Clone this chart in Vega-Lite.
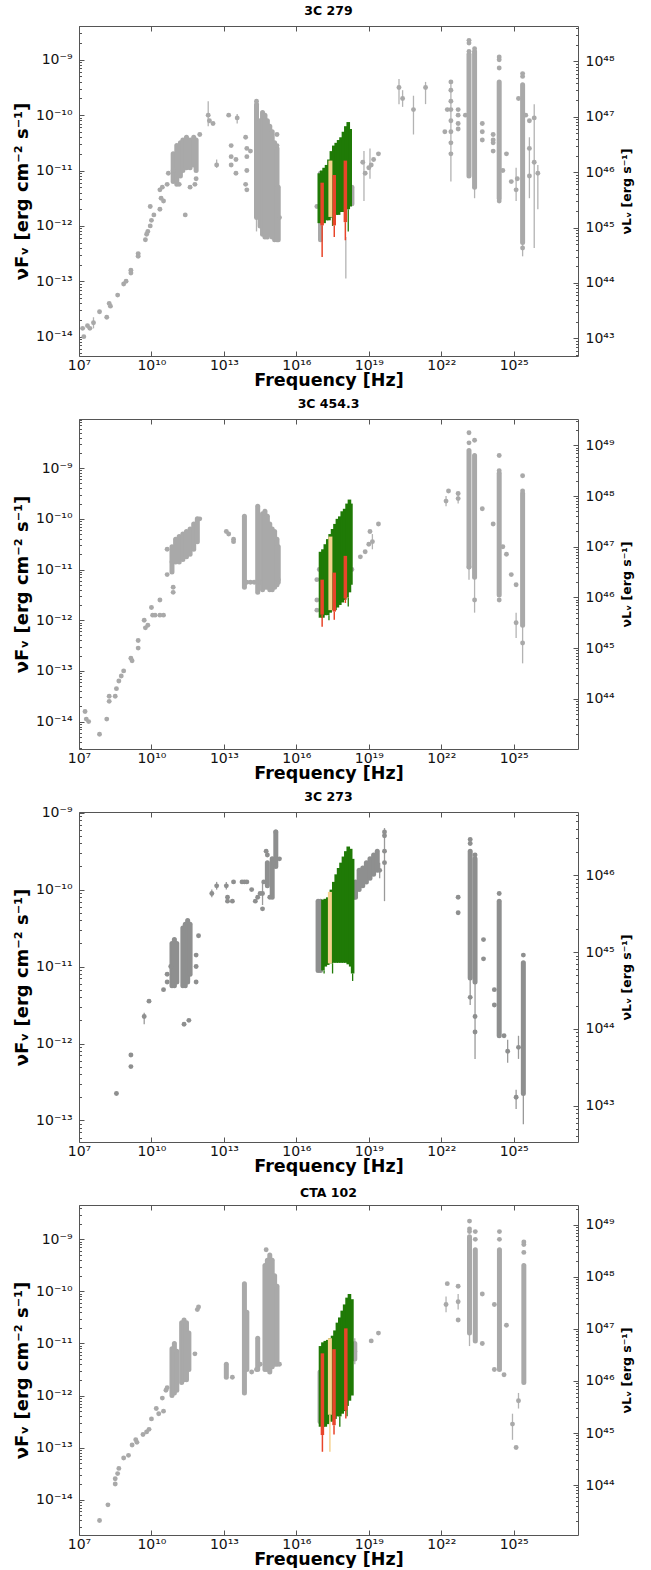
{
"$schema": "https://vega.github.io/schema/vega-lite/v6.json",
"padding": {"left": 13, "top": 4, "right": 5, "bottom": 0},
"background": "white",
"spacing": 63,
"bounds": "flush",
"datasets": {
"p1_pts": [{"nu":1.58e7,"f":1e-14},{"nu":1.41e7,"f":1.41e-14},{"nu":2.24e7,"f":1.58e-14},{"nu":2.82e7,"f":1.41e-14},{"nu":3.98e7,"f":1.78e-14},{"nu":7.08e7,"f":2.82e-14},{"nu":1.41e8,"f":2.24e-14},{"nu":2e8,"f":3.55e-14},{"nu":1.78e8,"f":3.98e-14},{"nu":3.98e8,"f":5.62e-14},{"nu":7.08e8,"f":8.91e-14},{"nu":8.91e8,"f":1e-13},{"nu":1.41e9,"f":1.58e-13},{"nu":1.41e9,"f":1.41e-13},{"nu":2.82e9,"f":3.16e-13},{"nu":2.82e9,"f":2.82e-13},{"nu":5.62e9,"f":5.62e-13},{"nu":6.31e9,"f":7.08e-13},{"nu":7.08e9,"f":7.94e-13},{"nu":8.91e9,"f":1e-12},{"nu":1e10,"f":1.26e-12},{"nu":1.26e10,"f":1.58e-12},{"nu":2.24e10,"f":2e-12},{"nu":8.91e9,"f":2.24e-12},{"nu":3.16e10,"f":2.82e-12},{"nu":2.51e10,"f":3.16e-12},{"nu":2.24e10,"f":4.47e-12},{"nu":2.82e10,"f":5.01e-12},{"nu":4.47e10,"f":5.62e-12},{"nu":5.01e10,"f":8.91e-12},{"nu":7.94e10,"f":1e-11},{"nu":2.51e11,"f":1.58e-12},{"nu":1.41e11,"f":5.62e-12},{"nu":3.98e11,"f":5.01e-12},{"nu":6.31e11,"f":5.62e-12},{"nu":7.08e11,"f":7.08e-12},{"nu":1e12,"f":4.47e-11},{"nu":2.24e12,"f":1e-10},{"nu":2.51e12,"f":7.94e-11},{"nu":3.55e12,"f":7.08e-11},{"nu":5.01e12,"f":1.26e-11},{"nu":1.58e13,"f":1e-10},{"nu":3.55e13,"f":8.91e-11},{"nu":2e13,"f":2.82e-11},{"nu":2e13,"f":1.78e-11},{"nu":3.16e13,"f":1.58e-11},{"nu":2e13,"f":1.26e-11},{"nu":3.16e13,"f":8.91e-12},{"nu":7.94e13,"f":3.98e-11},{"nu":8.91e13,"f":2.51e-11},{"nu":8.91e13,"f":1.78e-11},{"nu":8.91e13,"f":1e-11},{"nu":7.94e13,"f":5.62e-12},{"nu":8.91e13,"f":4.47e-12},{"nu":1.26e14,"f":2.24e-11},{"nu":2.24e14,"f":1.78e-10},{"nu":1.58e15,"f":4.47e-11},{"nu":1.58e15,"f":2.82e-11},{"nu":2e15,"f":1.41e-12},{"nu":7.08e16,"f":2.24e-12},{"nu":5.62e18,"f":1.41e-11},{"nu":7.08e18,"f":8.91e-12},{"nu":1e19,"f":1.12e-11},{"nu":1.26e19,"f":1.26e-11},{"nu":1.58e19,"f":1.58e-11},{"nu":2.51e19,"f":2e-11},{"nu":1.78e20,"f":3.16e-10},{"nu":2.51e20,"f":2e-10},{"nu":7.08e20,"f":1.26e-10},{"nu":2.24e21,"f":3.16e-10},{"nu":1.41e22,"f":5.01e-11},{"nu":1.78e22,"f":1.26e-10},{"nu":2.51e22,"f":3.98e-10},{"nu":2.51e22,"f":2.82e-10},{"nu":2.51e22,"f":1.78e-10},{"nu":2.51e22,"f":1.26e-10},{"nu":2.51e22,"f":7.94e-11},{"nu":2.51e22,"f":5.01e-11},{"nu":2.51e22,"f":3.16e-11},{"nu":2.51e22,"f":2e-11},{"nu":5.01e22,"f":1.26e-10},{"nu":5.01e22,"f":1e-10},{"nu":5.01e22,"f":7.08e-11},{"nu":5.01e22,"f":5.62e-11},{"nu":1e23,"f":1e-10},{"nu":1.41e23,"f":2.24e-9},{"nu":1.41e23,"f":2e-9},{"nu":1.41e23,"f":1.41e-9},{"nu":2.4e23,"f":1.58e-9},{"nu":5.01e23,"f":7.08e-11},{"nu":5.01e23,"f":5.01e-11},{"nu":5.01e23,"f":3.55e-11},{"nu":1.41e24,"f":4.47e-11},{"nu":1.41e24,"f":3.55e-11},{"nu":1.41e24,"f":3.16e-11},{"nu":1.41e24,"f":2.24e-11},{"nu":2.51e24,"f":1.12e-9},{"nu":2.51e24,"f":1e-9},{"nu":2.51e24,"f":7.08e-10},{"nu":2.51e24,"f":2.82e-12},{"nu":5.01e24,"f":2e-11},{"nu":3.55e24,"f":1e-11},{"nu":7.94e24,"f":6.31e-12},{"nu":1.26e25,"f":4.47e-12},{"nu":1.41e25,"f":7.08e-12},{"nu":2.34e25,"f":5.62e-10},{"nu":2.34e25,"f":5.01e-10},{"nu":2.34e25,"f":3.98e-13},{"nu":1.58e25,"f":2e-10},{"nu":3.16e25,"f":1e-10},{"nu":4.47e25,"f":7.94e-11},{"nu":4.47e25,"f":2.51e-11},{"nu":4.47e25,"f":7.94e-12},{"nu":7.08e25,"f":8.91e-11},{"nu":7.08e25,"f":1.41e-11},{"nu":1e26,"f":8.91e-12}],
"p1_rng": [{"set":"archive","nu":7.94e10,"f":6.31e-12,"f2":2e-11},{"set":"archive","nu":1.12e11,"f":5.62e-12,"f2":2.82e-11},{"set":"archive","nu":1.58e11,"f":7.94e-12,"f2":3.16e-11},{"set":"archive","nu":2e11,"f":1e-11,"f2":3.55e-11},{"set":"archive","nu":2.82e11,"f":1.12e-11,"f2":3.98e-11},{"set":"archive","nu":3.98e11,"f":1.12e-11,"f2":3.55e-11},{"set":"archive","nu":5.62e11,"f":1.26e-11,"f2":3.98e-11},{"set":"archive","nu":7.08e11,"f":1e-11,"f2":3.55e-11},{"set":"archive","nu":2.24e14,"f":1.41e-12,"f2":1.58e-10},{"set":"archive","nu":3.16e14,"f":1e-12,"f2":7.94e-11},{"set":"archive","nu":3.98e14,"f":7.08e-13,"f2":1.12e-10},{"set":"archive","nu":5.01e14,"f":6.31e-13,"f2":1e-10},{"set":"archive","nu":6.31e14,"f":6.31e-13,"f2":7.94e-11},{"set":"archive","nu":7.94e14,"f":7.08e-13,"f2":6.31e-11},{"set":"archive","nu":1e15,"f":6.31e-13,"f2":5.01e-11},{"set":"archive","nu":1.26e15,"f":5.62e-13,"f2":3.16e-11},{"set":"archive","nu":1.58e15,"f":5.62e-13,"f2":2.51e-11},{"set":"archive","nu":1.78e15,"f":5.62e-13,"f2":5.01e-12},{"set":"archive","nu":1e17,"f":5.62e-13,"f2":8.91e-12},{"set":"archive","nu":2e18,"f":2.51e-12,"f2":5.01e-12},{"set":"archive","nu":1.41e23,"f":7.94e-12,"f2":1.26e-9},{"set":"archive","nu":2.4e23,"f":5.01e-12,"f2":1.41e-9},{"set":"archive","nu":2.51e24,"f":3.16e-12,"f2":3.98e-10},{"set":"archive","nu":2.34e25,"f":5.01e-13,"f2":3.55e-10},
{"set":"xrt","nu":8.91e16,"f":1.12e-12,"f2":8.91e-12},{"set":"xrt","nu":1.12e17,"f":1.12e-12,"f2":1e-11},{"set":"xrt","nu":1.41e17,"f":1.12e-12,"f2":1.12e-11},{"set":"xrt","nu":1.78e17,"f":1.26e-12,"f2":1.26e-11},{"set":"xrt","nu":2.24e17,"f":1.26e-12,"f2":1.58e-11},{"set":"xrt","nu":2.82e17,"f":1.41e-12,"f2":2.24e-11},{"set":"xrt","nu":3.55e17,"f":1.41e-12,"f2":2.82e-11},{"set":"xrt","nu":4.47e17,"f":1.58e-12,"f2":3.16e-11},{"set":"xrt","nu":5.62e17,"f":1.58e-12,"f2":3.55e-11},{"set":"xrt","nu":7.08e17,"f":1.78e-12,"f2":3.98e-11},{"set":"xrt","nu":8.91e17,"f":1.78e-12,"f2":5.01e-11},{"set":"xrt","nu":1.12e18,"f":2e-12,"f2":6.31e-11},{"set":"xrt","nu":1.41e18,"f":2e-12,"f2":7.5e-11},{"set":"xrt","nu":1.7e18,"f":2.24e-12,"f2":5.62e-11},
{"set":"obs1","nu":1.17e17,"f":1.02e-12,"f2":6.03e-12},{"set":"obs1","nu":3.72e17,"f":1.02e-12,"f2":8.3e-12},{"set":"obs1","nu":1.07e18,"f":1.17e-12,"f2":1.51e-11},
{"set":"obs2","nu":2.57e17,"f":1.45e-12,"f2":1.51e-11}],
"p1_err": [{"set":"archive","nu":3.98e7,"f":1.41e-14,"f2":2.24e-14},{"set":"archive","nu":2.24e12,"f":6.31e-11,"f2":1.78e-10},{"set":"archive","nu":5.01e12,"f":1.12e-11,"f2":1.58e-11},{"set":"archive","nu":3.55e13,"f":7.08e-11,"f2":1.05e-10},{"set":"archive","nu":2.24e14,"f":7.94e-13,"f2":1.41e-12},{"set":"archive","nu":1.12e18,"f":1.12e-13,"f2":6.31e-13},{"set":"archive","nu":6.31e18,"f":2.82e-12,"f2":2.24e-11},{"set":"archive","nu":1.12e19,"f":7.08e-12,"f2":2.51e-11},{"set":"archive","nu":1.78e20,"f":1.58e-10,"f2":4.47e-10},{"set":"archive","nu":2.51e20,"f":1.41e-10,"f2":2.82e-10},{"set":"archive","nu":7.08e20,"f":4.47e-11,"f2":2.24e-10},{"set":"archive","nu":2.24e21,"f":1.58e-10,"f2":3.98e-10},{"set":"archive","nu":2.51e22,"f":6.31e-12,"f2":3.98e-10},{"set":"archive","nu":2.4e23,"f":3.16e-12,"f2":5.01e-12},{"set":"archive","nu":1.26e25,"f":2.82e-12,"f2":1.12e-11},{"set":"archive","nu":2.34e25,"f":2.82e-13,"f2":5.01e-13},{"set":"archive","nu":4.47e25,"f":3.16e-12,"f2":3.98e-11},{"set":"archive","nu":7.08e25,"f":3.98e-13,"f2":1.58e-10},{"set":"archive","nu":1e26,"f":2e-12,"f2":1.26e-11},
{"set":"xrt","nu":1.41e18,"f":7.94e-13,"f2":2e-12},{"set":"xrt","nu":3.16e17,"f":1e-12,"f2":1.41e-12},
{"set":"obs1","nu":1.17e17,"f":2.75e-13,"f2":1.02e-12},{"set":"obs1","nu":3.72e17,"f":6.3e-13,"f2":1.02e-12},{"set":"obs1","nu":1.07e18,"f":5.5e-13,"f2":1.17e-12}],
"p2_pts": [{"nu":1.78e7,"f":1.58e-14},{"nu":2e7,"f":1.12e-14},{"nu":2.51e7,"f":1e-14},{"nu":7.08e7,"f":5.62e-15},{"nu":1.41e8,"f":1.12e-14},{"nu":1.78e8,"f":2.51e-14},{"nu":1.78e8,"f":3.16e-14},{"nu":3.16e8,"f":3.16e-14},{"nu":3.55e8,"f":4.47e-14},{"nu":4.47e8,"f":6.31e-14},{"nu":5.62e8,"f":7.94e-14},{"nu":7.08e8,"f":1e-13},{"nu":1.41e9,"f":1.78e-13},{"nu":1.58e9,"f":1.58e-13},{"nu":2.82e9,"f":3.98e-13},{"nu":2.82e9,"f":2.82e-13},{"nu":5.01e9,"f":1e-12},{"nu":5.62e9,"f":7.08e-13},{"nu":7.08e9,"f":7.94e-13},{"nu":1e10,"f":1.78e-12},{"nu":1.12e10,"f":1.26e-12},{"nu":1.41e10,"f":1.26e-12},{"nu":2.24e10,"f":1.26e-12},{"nu":3.16e10,"f":1.26e-12},{"nu":2.24e10,"f":2.51e-12},{"nu":4.47e10,"f":7.94e-12},{"nu":7.94e10,"f":4.47e-12},{"nu":7.94e10,"f":3.55e-12},{"nu":4.47e10,"f":2.51e-11},{"nu":7.08e10,"f":1.41e-11},{"nu":1e12,"f":1e-10},{"nu":1.26e13,"f":5.62e-11},{"nu":1.58e13,"f":5.01e-11},{"nu":2.51e13,"f":3.98e-11},{"nu":2.51e13,"f":3.55e-11},{"nu":8.91e13,"f":5.62e-12},{"nu":1.26e14,"f":5.62e-12},{"nu":1.78e14,"f":5.62e-12},{"nu":3.16e14,"f":5.62e-12},{"nu":1.78e15,"f":6.31e-12},{"nu":7.08e16,"f":6.31e-12},{"nu":7.08e16,"f":2.51e-12},{"nu":7.08e16,"f":1.58e-12},{"nu":8.91e16,"f":1e-11},{"nu":2e18,"f":1e-11},{"nu":5.62e17,"f":5.01e-12},{"nu":4.47e18,"f":1.78e-11},{"nu":7.08e18,"f":2.24e-11},{"nu":1e19,"f":3.16e-11},{"nu":1.12e19,"f":5.62e-11},{"nu":1.41e19,"f":3.55e-11},{"nu":2.51e19,"f":7.94e-11},{"nu":1.58e22,"f":2.24e-10},{"nu":2e22,"f":3.55e-10},{"nu":5.01e22,"f":3.16e-10},{"nu":5.01e22,"f":2.51e-10},{"nu":1.41e23,"f":5.01e-9},{"nu":1.41e23,"f":3.16e-9},{"nu":1.41e23,"f":1.12e-11},{"nu":2.4e23,"f":3.55e-9},{"nu":2.4e23,"f":2.51e-12},{"nu":5.01e23,"f":1.58e-10},{"nu":1.41e24,"f":7.94e-11},{"nu":2.51e24,"f":1.78e-9},{"nu":2.51e24,"f":8.91e-10},{"nu":2.51e24,"f":2.51e-12},{"nu":3.55e24,"f":2.82e-11},{"nu":5.01e24,"f":2e-11},{"nu":7.94e24,"f":7.94e-12},{"nu":1.26e25,"f":5.01e-12},{"nu":1.26e25,"f":8.91e-13},{"nu":2.34e25,"f":7.08e-10},{"nu":2.34e25,"f":3.55e-10},{"nu":2.34e25,"f":3.55e-13}],
"p2_rng": [{"set":"archive","nu":7.08e10,"f":8.91e-12,"f2":2.82e-11},{"set":"archive","nu":1e11,"f":1.41e-11,"f2":3.98e-11},{"set":"archive","nu":1.41e11,"f":1.41e-11,"f2":4.47e-11},{"set":"archive","nu":2e11,"f":1.58e-11,"f2":5.01e-11},{"set":"archive","nu":2.82e11,"f":1.78e-11,"f2":5.62e-11},{"set":"archive","nu":3.98e11,"f":2e-11,"f2":6.31e-11},{"set":"archive","nu":5.62e11,"f":2.51e-11,"f2":7.94e-11},{"set":"archive","nu":7.94e11,"f":3.55e-11,"f2":1e-10},{"set":"archive","nu":7.08e13,"f":4.47e-12,"f2":1.12e-10},{"set":"archive","nu":2.51e14,"f":3.55e-12,"f2":1.78e-10},{"set":"archive","nu":3.98e14,"f":3.98e-12,"f2":1.26e-10},{"set":"archive","nu":5.01e14,"f":4.47e-12,"f2":1.41e-10},{"set":"archive","nu":6.31e14,"f":4.47e-12,"f2":1.12e-10},{"set":"archive","nu":7.94e14,"f":3.98e-12,"f2":7.94e-11},{"set":"archive","nu":1e15,"f":3.98e-12,"f2":6.31e-11},{"set":"archive","nu":1.26e15,"f":4.47e-12,"f2":5.62e-11},{"set":"archive","nu":1.58e15,"f":5.01e-12,"f2":3.98e-11},{"set":"archive","nu":1.78e15,"f":5.62e-12,"f2":2.82e-11},{"set":"archive","nu":1.41e23,"f":1.12e-11,"f2":2.24e-9},{"set":"archive","nu":2.4e23,"f":7.08e-12,"f2":1.78e-9},{"set":"archive","nu":2.51e24,"f":3.16e-12,"f2":7.94e-10},{"set":"archive","nu":2.34e25,"f":7.94e-13,"f2":3.16e-10},
{"set":"xrt","nu":1e17,"f":1.12e-12,"f2":2.24e-11},{"set":"xrt","nu":1.26e17,"f":1.12e-12,"f2":2.51e-11},{"set":"xrt","nu":1.58e17,"f":1.26e-12,"f2":3.16e-11},{"set":"xrt","nu":2e17,"f":1.26e-12,"f2":3.98e-11},{"set":"xrt","nu":2.51e17,"f":1.41e-12,"f2":5.01e-11},{"set":"xrt","nu":3.16e17,"f":1.58e-12,"f2":6.31e-11},{"set":"xrt","nu":3.98e17,"f":1.58e-12,"f2":7.94e-11},{"set":"xrt","nu":5.01e17,"f":1.78e-12,"f2":1e-10},{"set":"xrt","nu":6.31e17,"f":2e-12,"f2":1.12e-10},{"set":"xrt","nu":7.94e17,"f":2.24e-12,"f2":1.41e-10},{"set":"xrt","nu":1e18,"f":2.51e-12,"f2":1.58e-10},{"set":"xrt","nu":1.26e18,"f":2.82e-12,"f2":2e-10},{"set":"xrt","nu":1.58e18,"f":3.55e-12,"f2":2.4e-10},{"set":"xrt","nu":1.82e18,"f":5.01e-12,"f2":2e-10},
{"set":"obs1","nu":1.17e17,"f":1.29e-12,"f2":6.31e-12},{"set":"obs1","nu":3.72e17,"f":1.48e-12,"f2":8.7e-12},{"set":"obs1","nu":1.07e18,"f":2.69e-12,"f2":1.86e-11},
{"set":"obs2","nu":2.57e17,"f":1.58e-12,"f2":4.47e-11}],
"p2_err": [{"set":"archive","nu":1.41e19,"f":2.51e-11,"f2":5.01e-11},{"set":"archive","nu":1.58e22,"f":1.78e-10,"f2":2.82e-10},{"set":"archive","nu":5.01e22,"f":2e-10,"f2":3.16e-10},{"set":"archive","nu":1.41e23,"f":6.31e-12,"f2":1.12e-11},{"set":"archive","nu":2.4e23,"f":1.41e-12,"f2":7.08e-12},{"set":"archive","nu":1.26e25,"f":4.47e-13,"f2":1.41e-12},{"set":"archive","nu":2.34e25,"f":1.41e-13,"f2":7.94e-13},
{"set":"xrt","nu":1.41e18,"f":1.86e-12,"f2":2.82e-12},{"set":"xrt","nu":2.24e17,"f":1e-12,"f2":1.26e-12},
{"set":"obs1","nu":1.17e17,"f":7.4e-13,"f2":1.29e-12},{"set":"obs1","nu":3.72e17,"f":1.02e-12,"f2":1.48e-12},{"set":"obs1","nu":1.07e18,"f":2.19e-12,"f2":2.69e-12}],
"p3_pts": [{"nu":3.55e8,"f":2.24e-13},{"nu":1.41e9,"f":7.08e-13},{"nu":1.41e9,"f":5.01e-13},{"nu":5.01e9,"f":2.24e-12},{"nu":7.94e9,"f":3.55e-12},{"nu":3.16e10,"f":5.01e-12},{"nu":4.47e10,"f":7.94e-12},{"nu":4.47e10,"f":6.31e-12},{"nu":6.31e10,"f":1e-11},{"nu":2.24e11,"f":1.78e-12},{"nu":3.55e11,"f":2e-12},{"nu":7.08e11,"f":1e-11},{"nu":7.08e11,"f":6.31e-12},{"nu":7.08e11,"f":1.41e-11},{"nu":8.91e11,"f":2.51e-11},{"nu":3.16e12,"f":8.91e-11},{"nu":5.01e12,"f":1.12e-10},{"nu":1.26e13,"f":1.12e-10},{"nu":1.41e13,"f":7.94e-11},{"nu":1.41e13,"f":7.08e-11},{"nu":2.51e13,"f":1.26e-10},{"nu":2.24e13,"f":7.08e-11},{"nu":5.62e13,"f":1.26e-10},{"nu":7.08e13,"f":1.26e-10},{"nu":8.91e13,"f":1.26e-10},{"nu":1.41e14,"f":1e-10},{"nu":2e14,"f":7.08e-11},{"nu":2.51e14,"f":7.94e-11},{"nu":3.98e14,"f":5.62e-11},{"nu":3.16e14,"f":8.91e-11},{"nu":3.98e14,"f":8.91e-11},{"nu":4.47e14,"f":1.26e-10},{"nu":7.94e14,"f":7.94e-11},{"nu":5.62e14,"f":3.16e-10},{"nu":1.12e15,"f":2.24e-10},{"nu":2e15,"f":2.51e-10},{"nu":1.41e15,"f":5.62e-10},{"nu":6.31e14,"f":2.82e-10},{"nu":2.51e18,"f":7.94e-11},{"nu":2.82e19,"f":1.78e-10},{"nu":4.47e19,"f":5.62e-10},{"nu":4.47e19,"f":5.01e-10},{"nu":4.47e19,"f":3.16e-10},{"nu":4.47e19,"f":2.24e-10},{"nu":5.01e22,"f":7.94e-11},{"nu":5.01e22,"f":5.01e-11},{"nu":1.58e23,"f":4.47e-10},{"nu":1.58e23,"f":3.98e-10},{"nu":1.58e23,"f":3.98e-12},{"nu":2.51e23,"f":2.82e-10},{"nu":2.51e23,"f":2.24e-12},{"nu":2.51e23,"f":1.41e-12},{"nu":5.62e23,"f":2.24e-11},{"nu":5.62e23,"f":1.26e-11},{"nu":1.58e24,"f":5.01e-12},{"nu":1.58e24,"f":3.16e-12},{"nu":2.51e24,"f":8.91e-11},{"nu":3.98e24,"f":1.26e-12},{"nu":5.62e24,"f":7.94e-13},{"nu":1.26e25,"f":2e-13},{"nu":1.58e25,"f":8.91e-13},{"nu":2.51e25,"f":1.41e-11}],
"p3_rng": [{"set":"archive","nu":7.08e10,"f":5.62e-12,"f2":2e-11},{"set":"archive","nu":8.91e10,"f":5.62e-12,"f2":2.24e-11},{"set":"archive","nu":1.12e11,"f":6.31e-12,"f2":2e-11},{"set":"archive","nu":2e11,"f":5.62e-12,"f2":3.16e-11},{"set":"archive","nu":2.51e11,"f":5.62e-12,"f2":3.55e-11},{"set":"archive","nu":3.16e11,"f":6.31e-12,"f2":3.98e-11},{"set":"archive","nu":3.98e11,"f":7.94e-12,"f2":3.55e-11},{"set":"archive","nu":6.31e14,"f":1.12e-10,"f2":2.24e-10},{"set":"archive","nu":1e15,"f":7.94e-11,"f2":2.51e-10},{"set":"archive","nu":1.41e15,"f":2e-10,"f2":5.62e-10},{"set":"archive","nu":7.94e16,"f":8.91e-12,"f2":7.08e-11},{"set":"archive","nu":1e17,"f":8.91e-12,"f2":7.08e-11},{"set":"archive","nu":2.82e18,"f":7.94e-11,"f2":1.26e-10},{"set":"archive","nu":3.98e18,"f":1e-10,"f2":1.78e-10},{"set":"archive","nu":5.62e18,"f":1.12e-10,"f2":1.91e-10},{"set":"archive","nu":7.94e18,"f":1.26e-10,"f2":2.24e-10},{"set":"archive","nu":1.12e19,"f":1.41e-10,"f2":2.51e-10},{"set":"archive","nu":1.58e19,"f":1.58e-10,"f2":2.82e-10},{"set":"archive","nu":2.24e19,"f":1.78e-10,"f2":3.16e-10},{"set":"archive","nu":1.58e23,"f":7.08e-12,"f2":3.16e-10},{"set":"archive","nu":2.51e23,"f":6.31e-12,"f2":2.51e-10},{"set":"archive","nu":2.51e24,"f":1.26e-12,"f2":7.08e-11},{"set":"archive","nu":2.51e25,"f":2.24e-13,"f2":1.12e-11},
{"set":"xrt","nu":1.26e17,"f":8.91e-12,"f2":7.41e-11},{"set":"xrt","nu":1.58e17,"f":1e-11,"f2":7.59e-11},{"set":"xrt","nu":2e17,"f":1.05e-11,"f2":7.94e-11},{"set":"xrt","nu":2.82e17,"f":1.1e-11,"f2":1e-10},{"set":"xrt","nu":3.55e17,"f":1.12e-11,"f2":1.26e-10},{"set":"xrt","nu":4.47e17,"f":1.12e-11,"f2":1.58e-10},{"set":"xrt","nu":5.62e17,"f":1.12e-11,"f2":1.91e-10},{"set":"xrt","nu":7.08e17,"f":1.12e-11,"f2":2.24e-10},{"set":"xrt","nu":8.91e17,"f":1.12e-11,"f2":2.69e-10},{"set":"xrt","nu":1.12e18,"f":1.12e-11,"f2":3.16e-10},{"set":"xrt","nu":1.41e18,"f":1.07e-11,"f2":3.63e-10},{"set":"xrt","nu":1.78e18,"f":1e-11,"f2":3.39e-10},{"set":"xrt","nu":2.14e18,"f":8.13e-12,"f2":2.51e-10},
{"set":"obs2","nu":2.45e17,"f":1.1e-11,"f2":9.33e-11}],
"p3_err": [{"set":"archive","nu":5.01e9,"f":1.78e-12,"f2":2.51e-12},{"set":"archive","nu":3.16e12,"f":7.94e-11,"f2":1e-10},{"set":"archive","nu":5.01e12,"f":1e-10,"f2":1.26e-10},{"set":"archive","nu":1.26e13,"f":1e-10,"f2":1.26e-10},{"set":"archive","nu":3.98e14,"f":6.31e-11,"f2":1.26e-10},{"set":"archive","nu":2.82e19,"f":1.41e-10,"f2":2.24e-10},{"set":"archive","nu":4.47e19,"f":7.08e-11,"f2":6.31e-10},{"set":"archive","nu":1.58e23,"f":3.16e-12,"f2":7.08e-12},{"set":"archive","nu":2.51e23,"f":6.31e-13,"f2":6.31e-12},{"set":"archive","nu":5.62e24,"f":5.62e-13,"f2":1.12e-12},{"set":"archive","nu":1.26e25,"f":1.41e-13,"f2":2.51e-13},{"set":"archive","nu":1.58e25,"f":6.31e-13,"f2":1.26e-12},{"set":"archive","nu":2.51e25,"f":8.91e-14,"f2":2.24e-13},
{"set":"xrt","nu":1.41e17,"f":8.13e-12,"f2":8.91e-12},{"set":"xrt","nu":3.16e17,"f":8.13e-12,"f2":1.1e-11},{"set":"xrt","nu":2.14e18,"f":6.5e-12,"f2":8.13e-12}],
"p4_pts": [{"nu":7.08e7,"f":3.98e-15},{"nu":1.58e8,"f":7.94e-15},{"nu":3.16e8,"f":2e-14},{"nu":3.16e8,"f":2.51e-14},{"nu":3.98e8,"f":3.16e-14},{"nu":4.47e8,"f":3.98e-14},{"nu":7.08e8,"f":6.31e-14},{"nu":1.12e9,"f":7.08e-14},{"nu":1.58e9,"f":1.12e-13},{"nu":2.24e9,"f":1.41e-13},{"nu":2.51e9,"f":1.26e-13},{"nu":4.47e9,"f":1.78e-13},{"nu":6.31e9,"f":2e-13},{"nu":7.94e9,"f":2.24e-13},{"nu":1e10,"f":3.55e-13},{"nu":1.58e10,"f":5.62e-13},{"nu":2e10,"f":4.47e-13},{"nu":3.16e10,"f":5.01e-13},{"nu":2.82e10,"f":8.91e-13},{"nu":4.47e10,"f":1.41e-12},{"nu":3.98e10,"f":1.26e-12},{"nu":6.31e11,"f":6.31e-12},{"nu":7.94e11,"f":4.47e-11},{"nu":8.91e11,"f":5.01e-11},{"nu":2.24e13,"f":2.24e-12},{"nu":1.41e14,"f":2.82e-12},{"nu":2.24e14,"f":3.16e-12},{"nu":3.16e14,"f":3.98e-12},{"nu":5.62e14,"f":6.31e-10},{"nu":2e15,"f":3.98e-12},{"nu":2.63e18,"f":7.08e-12},{"nu":1.26e19,"f":1.12e-11},{"nu":2.51e19,"f":1.58e-11},{"nu":1.58e22,"f":5.62e-11},{"nu":1.78e22,"f":1.41e-10},{"nu":5.01e22,"f":1.26e-10},{"nu":5.01e22,"f":6.31e-11},{"nu":5.01e22,"f":2.82e-11},{"nu":1.48e23,"f":2.24e-9},{"nu":1.48e23,"f":1.58e-9},{"nu":1.48e23,"f":1.41e-9},{"nu":2.57e23,"f":1.41e-9},{"nu":2.57e23,"f":1e-9},{"nu":5.01e23,"f":8.91e-11},{"nu":5.01e23,"f":1e-11},{"nu":1.58e24,"f":5.62e-11},{"nu":1.58e24,"f":3.16e-12},{"nu":2.57e24,"f":1.41e-9},{"nu":2.57e24,"f":1e-9},{"nu":3.98e24,"f":2.51e-12},{"nu":5.01e24,"f":2.24e-11},{"nu":8.91e24,"f":2.82e-13},{"nu":1.26e25,"f":1e-13},{"nu":1.58e25,"f":7.94e-13},{"nu":2.63e25,"f":8.91e-10},{"nu":2.63e25,"f":7.94e-10},{"nu":2.63e25,"f":5.62e-10}],
"p4_rng": [{"set":"archive","nu":7.08e10,"f":1e-12,"f2":7.94e-12},{"set":"archive","nu":8.91e10,"f":1.12e-12,"f2":1e-11},{"set":"archive","nu":1.12e11,"f":1.26e-12,"f2":7.08e-12},{"set":"archive","nu":1.78e11,"f":1.78e-12,"f2":2.51e-11},{"set":"archive","nu":2.24e11,"f":2e-12,"f2":2.82e-11},{"set":"archive","nu":2.82e11,"f":2e-12,"f2":2.51e-11},{"set":"archive","nu":3.55e11,"f":3.16e-12,"f2":1.58e-11},{"set":"archive","nu":1.26e13,"f":2.24e-12,"f2":3.98e-12},{"set":"archive","nu":7.08e13,"f":1.12e-12,"f2":1.41e-10},{"set":"archive","nu":8.91e13,"f":3.16e-12,"f2":3.98e-11},{"set":"archive","nu":2.51e14,"f":3.16e-12,"f2":1.26e-11},{"set":"archive","nu":5.01e14,"f":3.16e-12,"f2":3.16e-10},{"set":"archive","nu":6.31e14,"f":3.16e-12,"f2":3.98e-10},{"set":"archive","nu":7.94e14,"f":2.82e-12,"f2":5.01e-10},{"set":"archive","nu":1e15,"f":3.55e-12,"f2":3.98e-10},{"set":"archive","nu":1.26e15,"f":3.98e-12,"f2":2e-10},{"set":"archive","nu":1.58e15,"f":3.98e-12,"f2":1.26e-10},{"set":"archive","nu":9.55e16,"f":3.16e-13,"f2":2.82e-12},{"set":"archive","nu":2.63e18,"f":5.01e-12,"f2":1e-11},{"set":"archive","nu":1.48e23,"f":1.58e-11,"f2":1.12e-9},{"set":"archive","nu":2.57e23,"f":1.12e-11,"f2":6.31e-10},{"set":"archive","nu":2.57e24,"f":3.16e-12,"f2":6.31e-10},{"set":"archive","nu":2.63e25,"f":1.78e-12,"f2":3.16e-10},
{"set":"xrt","nu":1e17,"f":2.51e-13,"f2":8.91e-12},{"set":"xrt","nu":1.26e17,"f":2.51e-13,"f2":1.05e-11},{"set":"xrt","nu":1.58e17,"f":2.51e-13,"f2":1.12e-11},{"set":"xrt","nu":2e17,"f":2.82e-13,"f2":1.17e-11},{"set":"xrt","nu":2.51e17,"f":3.16e-13,"f2":1.26e-11},{"set":"xrt","nu":3.16e17,"f":3.16e-13,"f2":1.41e-11},{"set":"xrt","nu":3.98e17,"f":3.55e-13,"f2":1.78e-11},{"set":"xrt","nu":5.01e17,"f":3.98e-13,"f2":2.51e-11},{"set":"xrt","nu":6.31e17,"f":3.98e-13,"f2":3.16e-11},{"set":"xrt","nu":7.94e17,"f":4.47e-13,"f2":4.27e-11},{"set":"xrt","nu":1e18,"f":5.01e-13,"f2":5.62e-11},{"set":"xrt","nu":1.26e18,"f":6.31e-13,"f2":7.59e-11},{"set":"xrt","nu":1.58e18,"f":7.94e-13,"f2":8.91e-11},{"set":"xrt","nu":2e18,"f":1e-12,"f2":7.08e-11},
{"set":"obs1","nu":1.2e17,"f":1.74e-13,"f2":6.46e-12},{"set":"obs1","nu":3.63e17,"f":2.69e-13,"f2":7.76e-12},{"set":"obs1","nu":1.12e18,"f":5.25e-13,"f2":1.95e-11},
{"set":"obs2","nu":2.45e17,"f":4.27e-13,"f2":1.26e-11}],
"p4_err": [{"set":"archive","nu":1.58e22,"f":3.98e-11,"f2":7.94e-11},{"set":"archive","nu":5.01e22,"f":4.47e-11,"f2":8.91e-11},{"set":"archive","nu":1.48e23,"f":8.91e-12,"f2":1.58e-11},{"set":"archive","nu":8.91e24,"f":1.41e-13,"f2":4.47e-13},{"set":"archive","nu":1.58e25,"f":5.62e-13,"f2":1.12e-12},{"set":"archive","nu":2.63e18,"f":3.98e-12,"f2":1.26e-11},
{"set":"xrt","nu":6.31e17,"f":2.51e-13,"f2":3.98e-13},{"set":"xrt","nu":1.26e18,"f":3.98e-13,"f2":6.31e-13},
{"set":"obs1","nu":1.2e17,"f":8.3e-14,"f2":1.74e-13},{"set":"obs1","nu":3.63e17,"f":1.78e-13,"f2":2.69e-13},{"set":"obs1","nu":1.12e18,"f":3.63e-13,"f2":5.25e-13},
{"set":"obs2","nu":2.45e17,"f":8.3e-14,"f2":4.27e-13}]
},
"vconcat": [
{
"title": "3C 279", "width": 499, "height": 330,
"layer": [
{"encoding": {
"x": {"field":"nu","type":"quantitative","scale":{"type":"log","domain":[1e7,4.6e27],"nice":false},"axis":{"values":[1e7,1e10,1e13,1e16,1e19,1e22,1e25],"title":"Frequency [Hz]","titleFontSize":17.5,"tickSize":-5,"labelPadding":7,"titlePadding":-1}},
"y": {"field":"f","type":"quantitative","scale":{"type":"log","domain":[4.47e-15,4.07e-9],"nice":false},"axis":{"title":"νFᵥ [erg cm⁻² s⁻¹]","titleFontSize":18,"tickCount":60,"tickSize":{"condition":{"test":"abs(log(datum.value)/LN10 - round(log(datum.value)/LN10)) < 0.01","value":-5},"value":-2.5},"labelPadding":12,"titlePadding":4}}},
"layer": [
{"data":{"name":"p1_err"},"transform":[{"filter":"datum.set=='archive'"}],"mark":{"type":"rule","color":"#b3b3b3","strokeWidth":1.3},"encoding":{"y2":{"field":"f2"}}},
{"data":{"name":"p1_rng"},"transform":[{"filter":"datum.set=='archive'"}],"mark":{"type":"rule","color":"#a9a9a9","strokeWidth":5,"strokeCap":"round"},"encoding":{"y2":{"field":"f2"}}},
{"data":{"name":"p1_pts"},"mark":{"type":"circle","color":"#a9a9a9","size":24,"opacity":1}},
{"data":{"name":"p1_rng"},"transform":[{"filter":"datum.set=='xrt'"}],"mark":{"type":"rule","color":"#1f7a06","strokeWidth":3.6},"encoding":{"y2":{"field":"f2"}}},
{"data":{"name":"p1_err"},"transform":[{"filter":"datum.set=='xrt'"}],"mark":{"type":"rule","color":"#1f7a06","strokeWidth":1.3},"encoding":{"y2":{"field":"f2"}}},
{"data":{"name":"p1_rng"},"transform":[{"filter":"datum.set=='obs2'"}],"mark":{"type":"rule","color":"#f6d28e","strokeWidth":4},"encoding":{"y2":{"field":"f2"}}},
{"data":{"name":"p1_err"},"transform":[{"filter":"datum.set=='obs1'"}],"mark":{"type":"rule","color":"#e8452a","strokeWidth":1.5},"encoding":{"y2":{"field":"f2"}}},
{"data":{"name":"p1_rng"},"transform":[{"filter":"datum.set=='obs1'"}],"mark":{"type":"rule","color":"#e8452a","strokeWidth":3.5},"encoding":{"y2":{"field":"f2"}}}
]},
{"data":{"values":[{}]},"mark":{"type":"point","opacity":0},
"encoding": {
"x": {"datum":1e17,"type":"quantitative","scale":{"type":"log","domain":[1e7,4.6e27],"nice":false},"axis":{"orient":"top","values":[1e7,1e10,1e13,1e16,1e19,1e22,1e25],"labels":false,"title":null,"tickSize":-5}},
"y": {"datum":1e45,"type":"quantitative","scale":{"type":"log","domain":[4.79e42,4.37e48],"nice":false},"axis":{"orient":"right","title":"νLᵥ [erg s⁻¹]","titleFontSize":12.5,"titleAngle":270,"titleBaseline":"top","tickCount":60,"tickSize":{"condition":{"test":"abs(log(datum.value)/LN10 - round(log(datum.value)/LN10)) < 0.01","value":-5},"value":-2.5},"labelPadding":12,"titlePadding":6}}}}
],
"resolve": {"scale": {"x":"independent","y":"independent"}}
},
{
"title": "3C 454.3", "width": 499, "height": 330,
"layer": [
{"encoding": {
"x": {"field":"nu","type":"quantitative","scale":{"type":"log","domain":[1e7,4.6e27],"nice":false},"axis":{"values":[1e7,1e10,1e13,1e16,1e19,1e22,1e25],"title":"Frequency [Hz]","titleFontSize":17.5,"tickSize":-5,"labelPadding":7,"titlePadding":-1}},
"y": {"field":"f","type":"quantitative","scale":{"type":"log","domain":[2.88e-15,9.33e-9],"nice":false},"axis":{"title":"νFᵥ [erg cm⁻² s⁻¹]","titleFontSize":18,"tickCount":60,"tickSize":{"condition":{"test":"abs(log(datum.value)/LN10 - round(log(datum.value)/LN10)) < 0.01","value":-5},"value":-2.5},"labelPadding":12,"titlePadding":4}}},
"layer": [
{"data":{"name":"p2_err"},"transform":[{"filter":"datum.set=='archive'"}],"mark":{"type":"rule","color":"#b3b3b3","strokeWidth":1.3},"encoding":{"y2":{"field":"f2"}}},
{"data":{"name":"p2_rng"},"transform":[{"filter":"datum.set=='archive'"}],"mark":{"type":"rule","color":"#a9a9a9","strokeWidth":5,"strokeCap":"round"},"encoding":{"y2":{"field":"f2"}}},
{"data":{"name":"p2_pts"},"mark":{"type":"circle","color":"#a9a9a9","size":24,"opacity":1}},
{"data":{"name":"p2_rng"},"transform":[{"filter":"datum.set=='xrt'"}],"mark":{"type":"rule","color":"#1f7a06","strokeWidth":3.6},"encoding":{"y2":{"field":"f2"}}},
{"data":{"name":"p2_err"},"transform":[{"filter":"datum.set=='xrt'"}],"mark":{"type":"rule","color":"#1f7a06","strokeWidth":1.3},"encoding":{"y2":{"field":"f2"}}},
{"data":{"name":"p2_rng"},"transform":[{"filter":"datum.set=='obs2'"}],"mark":{"type":"rule","color":"#f6d28e","strokeWidth":4},"encoding":{"y2":{"field":"f2"}}},
{"data":{"name":"p2_err"},"transform":[{"filter":"datum.set=='obs1'"}],"mark":{"type":"rule","color":"#e8452a","strokeWidth":1.5},"encoding":{"y2":{"field":"f2"}}},
{"data":{"name":"p2_rng"},"transform":[{"filter":"datum.set=='obs1'"}],"mark":{"type":"rule","color":"#e8452a","strokeWidth":3.5},"encoding":{"y2":{"field":"f2"}}}
]},
{"data":{"values":[{}]},"mark":{"type":"point","opacity":0},
"encoding": {
"x": {"datum":1e17,"type":"quantitative","scale":{"type":"log","domain":[1e7,4.6e27],"nice":false},"axis":{"orient":"top","values":[1e7,1e10,1e13,1e16,1e19,1e22,1e25],"labels":false,"title":null,"tickSize":-5}},
"y": {"datum":1e45,"type":"quantitative","scale":{"type":"log","domain":[1.02e43,3.31e49],"nice":false},"axis":{"orient":"right","title":"νLᵥ [erg s⁻¹]","titleFontSize":12.5,"titleAngle":270,"titleBaseline":"top","tickCount":60,"tickSize":{"condition":{"test":"abs(log(datum.value)/LN10 - round(log(datum.value)/LN10)) < 0.01","value":-5},"value":-2.5},"labelPadding":12,"titlePadding":6}}}}
],
"resolve": {"scale": {"x":"independent","y":"independent"}}
},
{
"title": "3C 273", "width": 499, "height": 330,
"layer": [
{"encoding": {
"x": {"field":"nu","type":"quantitative","scale":{"type":"log","domain":[1e7,4.6e27],"nice":false},"axis":{"values":[1e7,1e10,1e13,1e16,1e19,1e22,1e25],"title":"Frequency [Hz]","titleFontSize":17.5,"tickSize":-5,"labelPadding":7,"titlePadding":-1}},
"y": {"field":"f","type":"quantitative","scale":{"type":"log","domain":[5.25e-14,1.02e-9],"nice":false},"axis":{"title":"νFᵥ [erg cm⁻² s⁻¹]","titleFontSize":18,"tickCount":60,"tickSize":{"condition":{"test":"abs(log(datum.value)/LN10 - round(log(datum.value)/LN10)) < 0.01","value":-5},"value":-2.5},"labelPadding":12,"titlePadding":4}}},
"layer": [
{"data":{"name":"p3_err"},"transform":[{"filter":"datum.set=='archive'"}],"mark":{"type":"rule","color":"#9a9a9a","strokeWidth":1.3},"encoding":{"y2":{"field":"f2"}}},
{"data":{"name":"p3_rng"},"transform":[{"filter":"datum.set=='archive'"}],"mark":{"type":"rule","color":"#8e8f8f","strokeWidth":5,"strokeCap":"round"},"encoding":{"y2":{"field":"f2"}}},
{"data":{"name":"p3_pts"},"mark":{"type":"circle","color":"#8e8f8f","size":24,"opacity":1}},
{"data":{"name":"p3_rng"},"transform":[{"filter":"datum.set=='xrt'"}],"mark":{"type":"rule","color":"#1f7a06","strokeWidth":3.6},"encoding":{"y2":{"field":"f2"}}},
{"data":{"name":"p3_err"},"transform":[{"filter":"datum.set=='xrt'"}],"mark":{"type":"rule","color":"#1f7a06","strokeWidth":1.3},"encoding":{"y2":{"field":"f2"}}},
{"data":{"name":"p3_rng"},"transform":[{"filter":"datum.set=='obs2'"}],"mark":{"type":"rule","color":"#f6d28e","strokeWidth":4},"encoding":{"y2":{"field":"f2"}}}
]},
{"data":{"values":[{}]},"mark":{"type":"point","opacity":0},
"encoding": {
"x": {"datum":1e17,"type":"quantitative","scale":{"type":"log","domain":[1e7,4.6e27],"nice":false},"axis":{"orient":"top","values":[1e7,1e10,1e13,1e16,1e19,1e22,1e25],"labels":false,"title":null,"tickSize":-5}},
"y": {"datum":1e45,"type":"quantitative","scale":{"type":"log","domain":[3.39e42,6.61e46],"nice":false},"axis":{"orient":"right","title":"νLᵥ [erg s⁻¹]","titleFontSize":12.5,"titleAngle":270,"titleBaseline":"top","tickCount":60,"tickSize":{"condition":{"test":"abs(log(datum.value)/LN10 - round(log(datum.value)/LN10)) < 0.01","value":-5},"value":-2.5},"labelPadding":12,"titlePadding":6}}}}
],
"resolve": {"scale": {"x":"independent","y":"independent"}}
},
{
"title": "CTA 102", "width": 499, "height": 330,
"layer": [
{"encoding": {
"x": {"field":"nu","type":"quantitative","scale":{"type":"log","domain":[1e7,4.6e27],"nice":false},"axis":{"values":[1e7,1e10,1e13,1e16,1e19,1e22,1e25],"title":"Frequency [Hz]","titleFontSize":17.5,"tickSize":-5,"labelPadding":7,"titlePadding":-1}},
"y": {"field":"f","type":"quantitative","scale":{"type":"log","domain":[2.09e-15,4.57e-9],"nice":false},"axis":{"title":"νFᵥ [erg cm⁻² s⁻¹]","titleFontSize":18,"tickCount":60,"tickSize":{"condition":{"test":"abs(log(datum.value)/LN10 - round(log(datum.value)/LN10)) < 0.01","value":-5},"value":-2.5},"labelPadding":12,"titlePadding":4}}},
"layer": [
{"data":{"name":"p4_err"},"transform":[{"filter":"datum.set=='archive'"}],"mark":{"type":"rule","color":"#b3b3b3","strokeWidth":1.3},"encoding":{"y2":{"field":"f2"}}},
{"data":{"name":"p4_rng"},"transform":[{"filter":"datum.set=='archive'"}],"mark":{"type":"rule","color":"#a9a9a9","strokeWidth":5,"strokeCap":"round"},"encoding":{"y2":{"field":"f2"}}},
{"data":{"name":"p4_pts"},"mark":{"type":"circle","color":"#a9a9a9","size":24,"opacity":1}},
{"data":{"name":"p4_rng"},"transform":[{"filter":"datum.set=='xrt'"}],"mark":{"type":"rule","color":"#1f7a06","strokeWidth":3.6},"encoding":{"y2":{"field":"f2"}}},
{"data":{"name":"p4_err"},"transform":[{"filter":"datum.set=='xrt'"}],"mark":{"type":"rule","color":"#1f7a06","strokeWidth":1.3},"encoding":{"y2":{"field":"f2"}}},
{"data":{"name":"p4_err"},"transform":[{"filter":"datum.set=='obs2'"}],"mark":{"type":"rule","color":"#f6d28e","strokeWidth":1.5},"encoding":{"y2":{"field":"f2"}}},
{"data":{"name":"p4_rng"},"transform":[{"filter":"datum.set=='obs2'"}],"mark":{"type":"rule","color":"#f6d28e","strokeWidth":4},"encoding":{"y2":{"field":"f2"}}},
{"data":{"name":"p4_err"},"transform":[{"filter":"datum.set=='obs1'"}],"mark":{"type":"rule","color":"#e8452a","strokeWidth":1.5},"encoding":{"y2":{"field":"f2"}}},
{"data":{"name":"p4_rng"},"transform":[{"filter":"datum.set=='obs1'"}],"mark":{"type":"rule","color":"#e8452a","strokeWidth":3.5},"encoding":{"y2":{"field":"f2"}}}
]},
{"data":{"values":[{}]},"mark":{"type":"point","opacity":0},
"encoding": {
"x": {"datum":1e17,"type":"quantitative","scale":{"type":"log","domain":[1e7,4.6e27],"nice":false},"axis":{"orient":"top","values":[1e7,1e10,1e13,1e16,1e19,1e22,1e25],"labels":false,"title":null,"tickSize":-5}},
"y": {"datum":1e45,"type":"quantitative","scale":{"type":"log","domain":[1.1e43,2.4e49],"nice":false},"axis":{"orient":"right","title":"νLᵥ [erg s⁻¹]","titleFontSize":12.5,"titleAngle":270,"titleBaseline":"top","tickCount":60,"tickSize":{"condition":{"test":"abs(log(datum.value)/LN10 - round(log(datum.value)/LN10)) < 0.01","value":-5},"value":-2.5},"labelPadding":12,"titlePadding":6}}}}
],
"resolve": {"scale": {"x":"independent","y":"independent"}}
}
],
"config": {
"font": "DejaVu Sans",
"view": {"stroke": "#555555", "strokeWidth": 1},
"title": {"font": "DejaVu Sans", "fontSize": 12.5, "fontWeight": "bold", "color": "#000000", "offset": 2, "anchor": "middle"},
"axis": {"grid": false, "domain": false, "labelFont": "DejaVu Sans", "labelFontSize": 14, "labelColor": "#111111", "titleFont": "DejaVu Sans", "titleFontWeight": "bold", "titleColor": "#000000", "tickColor": "#555555", "labelOverlap": false, "labelFlush": false,
"labelExpr": "abs(log(datum.value)/LN10 - round(log(datum.value)/LN10)) < 0.01 ? '10' + replace(replace(replace(replace(replace(replace(replace(replace(replace(replace(replace('' + round(log(datum.value)/LN10), regexp('-','g'), '⁻'), regexp('0','g'), '⁰'), regexp('1','g'), '¹'), regexp('2','g'), '²'), regexp('3','g'), '³'), regexp('4','g'), '⁴'), regexp('5','g'), '⁵'), regexp('6','g'), '⁶'), regexp('7','g'), '⁷'), regexp('8','g'), '⁸'), regexp('9','g'), '⁹') : ''"}
}
}
